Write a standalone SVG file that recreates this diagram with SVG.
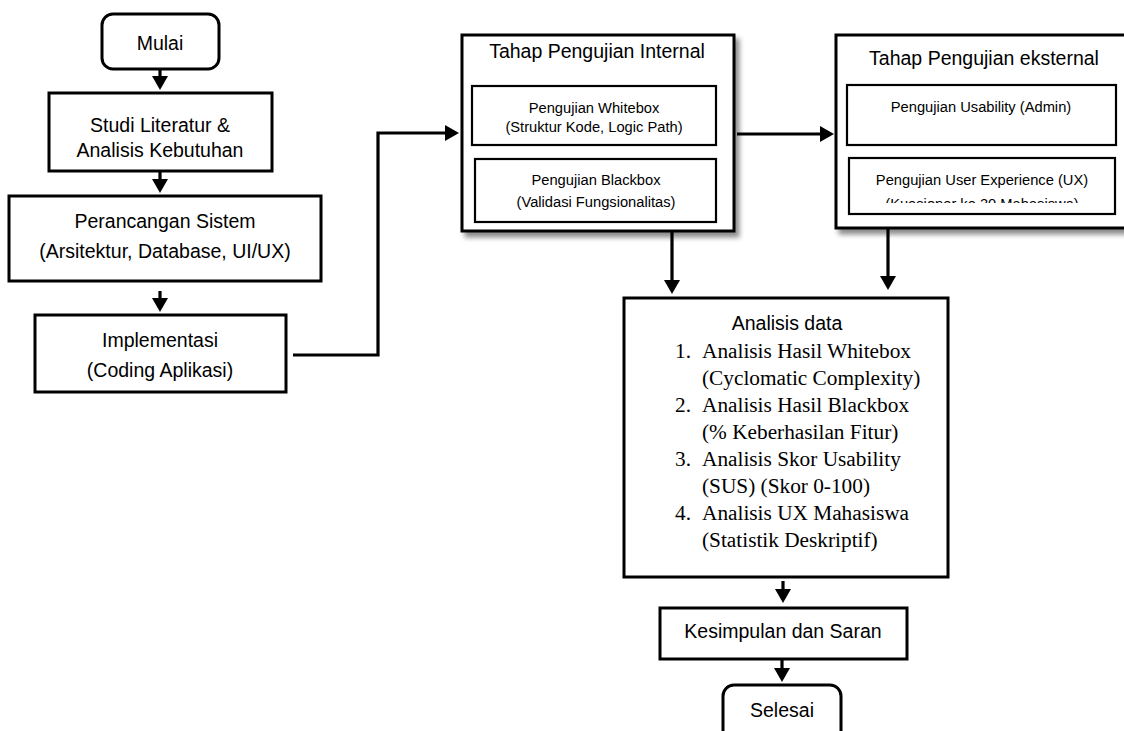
<svg xmlns="http://www.w3.org/2000/svg" width="1124" height="731" viewBox="0 0 1124 731">
<style>
.box{fill:#fff;stroke:#000;stroke-width:3}
.sub{fill:#fff;stroke:#000;stroke-width:2.2}
.t{font-family:"Liberation Sans",Arial,sans-serif;font-size:19.5px;fill:#000;text-anchor:middle}
.s{font-family:"Liberation Sans",Arial,sans-serif;font-size:14.7px;fill:#000;text-anchor:middle}
.r{font-family:"Liberation Serif","Times New Roman",serif;font-size:21.3px;fill:#000}
.c{fill:none;stroke:#000;stroke-width:3.2;marker-end:url(#ah)}
</style>
<defs>
<marker id="ah" viewBox="0 0 14 16" refX="1" refY="8" markerWidth="14" markerHeight="16" markerUnits="userSpaceOnUse" orient="auto">
<path d="M0,0 L14,8 L0,16 z" fill="#000"/>
</marker>
<filter id="sh" x="-10%" y="-10%" width="130%" height="130%">
<feDropShadow dx="4" dy="5" stdDeviation="2.5" flood-color="#000" flood-opacity="0.45"/>
</filter>
<clipPath id="clipUX"><rect x="849" y="150" width="266" height="53"/></clipPath>
</defs>
<rect width="1124" height="731" fill="#fff"/>

<g id="connectors">
<path class="c" d="M160,69 V77"/>
<path class="c" d="M160,172 V180"/>
<path class="c" d="M160,291 V299"/>
<path class="c" d="M293,355 H378 V133 H446"/>
<path class="c" d="M737,134 H821"/>
<path class="c" d="M672,232 V281"/>
<path class="c" d="M888,228 V277"/>
<path class="c" d="M783,581 V590"/>
<path class="c" d="M782,660 V669"/>
</g>

<g id="mulai">
<rect class="box" x="102" y="14" width="117" height="55" rx="11"/>
<text class="t" x="160" y="50">Mulai</text>
</g>

<g id="studi">
<rect class="box" x="49" y="93" width="223" height="78"/>
<text class="t" x="160" y="132">Studi Literatur &amp;</text>
<text class="t" x="160" y="157">Analisis Kebutuhan</text>
</g>

<g id="perancangan">
<rect class="box" x="9" y="196" width="312" height="85"/>
<text class="t" x="165" y="228">Perancangan Sistem</text>
<text class="t" x="165" y="258">(Arsitektur, Database, UI/UX)</text>
</g>

<g id="implementasi">
<rect class="box" x="35" y="315" width="251" height="77"/>
<text class="t" x="160" y="347">Implementasi</text>
<text class="t" x="160" y="377">(Coding Aplikasi)</text>
</g>

<g id="internal">
<rect class="box" x="462" y="35" width="272" height="196" filter="url(#sh)"/>
<text class="t" x="597" y="58">Tahap Pengujian Internal</text>
<rect class="sub" x="472" y="86" width="244" height="59"/>
<text class="s" x="594" y="113">Pengujian Whitebox</text>
<text class="s" x="594" y="132">(Struktur Kode, Logic Path)</text>
<rect class="sub" x="475" y="159" width="241" height="63"/>
<text class="s" x="596" y="185">Pengujian Blackbox</text>
<text class="s" x="596" y="207">(Validasi Fungsionalitas)</text>
</g>

<g id="eksternal">
<rect class="box" x="836" y="35" width="300" height="193" filter="url(#sh)"/>
<text class="t" x="984" y="65">Tahap Pengujian eksternal</text>
<rect class="sub" x="847" y="85" width="269" height="60"/>
<text class="s" x="981" y="112">Pengujian Usability (Admin)</text>
<rect class="sub" x="849" y="158" width="266" height="56"/>
<text class="s" x="982" y="185">Pengujian User Experience (UX)</text>
<text class="s" x="982" y="209" clip-path="url(#clipUX)">(Kuesioner ke 30 Mahasiswa)</text>
</g>

<g id="analisis">
<rect class="box" x="624" y="298" width="324" height="279"/>
<text class="t" x="787" y="330">Analisis data</text>
<text class="r" x="675" y="358">1.</text>
<text class="r" x="702" y="358">Analisis Hasil Whitebox</text>
<text class="r" x="702" y="385">(Cyclomatic Complexity)</text>
<text class="r" x="675" y="412">2.</text>
<text class="r" x="702" y="412">Analisis Hasil Blackbox</text>
<text class="r" x="702" y="439">(% Keberhasilan Fitur)</text>
<text class="r" x="675" y="466">3.</text>
<text class="r" x="702" y="466">Analisis Skor Usability</text>
<text class="r" x="702" y="493">(SUS) (Skor 0-100)</text>
<text class="r" x="675" y="520">4.</text>
<text class="r" x="702" y="520">Analisis UX Mahasiswa</text>
<text class="r" x="702" y="547">(Statistik Deskriptif)</text>
</g>

<g id="kesimpulan">
<rect class="box" x="660" y="608" width="247" height="51"/>
<text class="t" x="783" y="638">Kesimpulan dan Saran</text>
</g>

<g id="selesai">
<rect class="box" x="723" y="685" width="118" height="62" rx="11"/>
<text class="t" x="782" y="717">Selesai</text>
</g>
</svg>
